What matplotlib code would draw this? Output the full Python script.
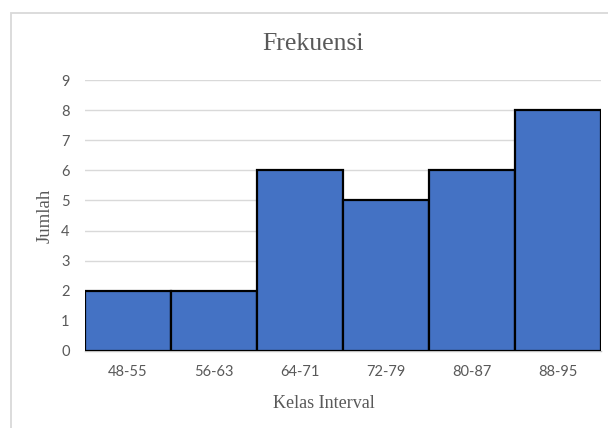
import matplotlib
matplotlib.use("Agg")
import matplotlib.pyplot as plt
from matplotlib.patches import Rectangle

# class intervals and their frequencies
kelas = ["48-55", "56-63", "64-71", "72-79", "80-87", "88-95"]
jumlah = [2, 2, 6, 5, 6, 8]
yticks = list(range(0, 10))

grey_txt = "#595959"
grid_c = "#d9d9d9"
W, H = 608, 428

fig = plt.figure(figsize=(W / 100, H / 100), dpi=100)
fig.patch.set_facecolor("white")

# chart frame (runs off the right/bottom edge)
fig.add_artist(Rectangle((11 / W, -0.05), 1.0, 1.05 - 13 / H,
                         transform=fig.transFigure, fill=False,
                         edgecolor=grid_c, linewidth=1.3))

ax = fig.add_axes([85 / W, 77 / H, 516 / W, 271 / H])
x = list(range(len(kelas)))
ax.bar(x, jumlah, width=1.0, color="#4472C4", edgecolor="black",
       linewidth=1.6, zorder=3)

ax.set_xlim(-0.5, len(kelas) - 0.5)
ax.set_ylim(0, 9)
ax.set_yticks(yticks)
ax.set_xticks(x)
ax.set_xticklabels(kelas)
ax.yaxis.grid(True, color=grid_c, linewidth=1.0, zorder=0)
ax.set_axisbelow(True)
for s in ["top", "right", "left"]:
    ax.spines[s].set_visible(False)
ax.spines["bottom"].set_color("#bfbfbf")
ax.spines["bottom"].set_linewidth(1.0)
ax.tick_params(axis="both", length=0, labelsize=10.5, labelcolor=grey_txt)
ax.tick_params(axis="y", pad=11)
ax.tick_params(axis="x", pad=10)
for lab in ax.get_xticklabels() + ax.get_yticklabels():
    lab.set_fontfamily("Lato")

# titles in serif
fig.text(313 / W, 1 - 44 / H, "Frekuensi", ha="center", va="center",
         fontfamily="Liberation Serif", fontsize=18.5, color=grey_txt)
fig.text(324 / W, 1 - 403 / H, "Kelas Interval", ha="center", va="center",
         fontfamily="Liberation Serif", fontsize=13, color=grey_txt)
fig.text(45 / W, 1 - 216 / H, "Jumlah", ha="center", va="center",
         rotation=90, fontfamily="Liberation Serif", fontsize=13.5,
         color=grey_txt)

fig.savefig("out.png", dpi=100)
